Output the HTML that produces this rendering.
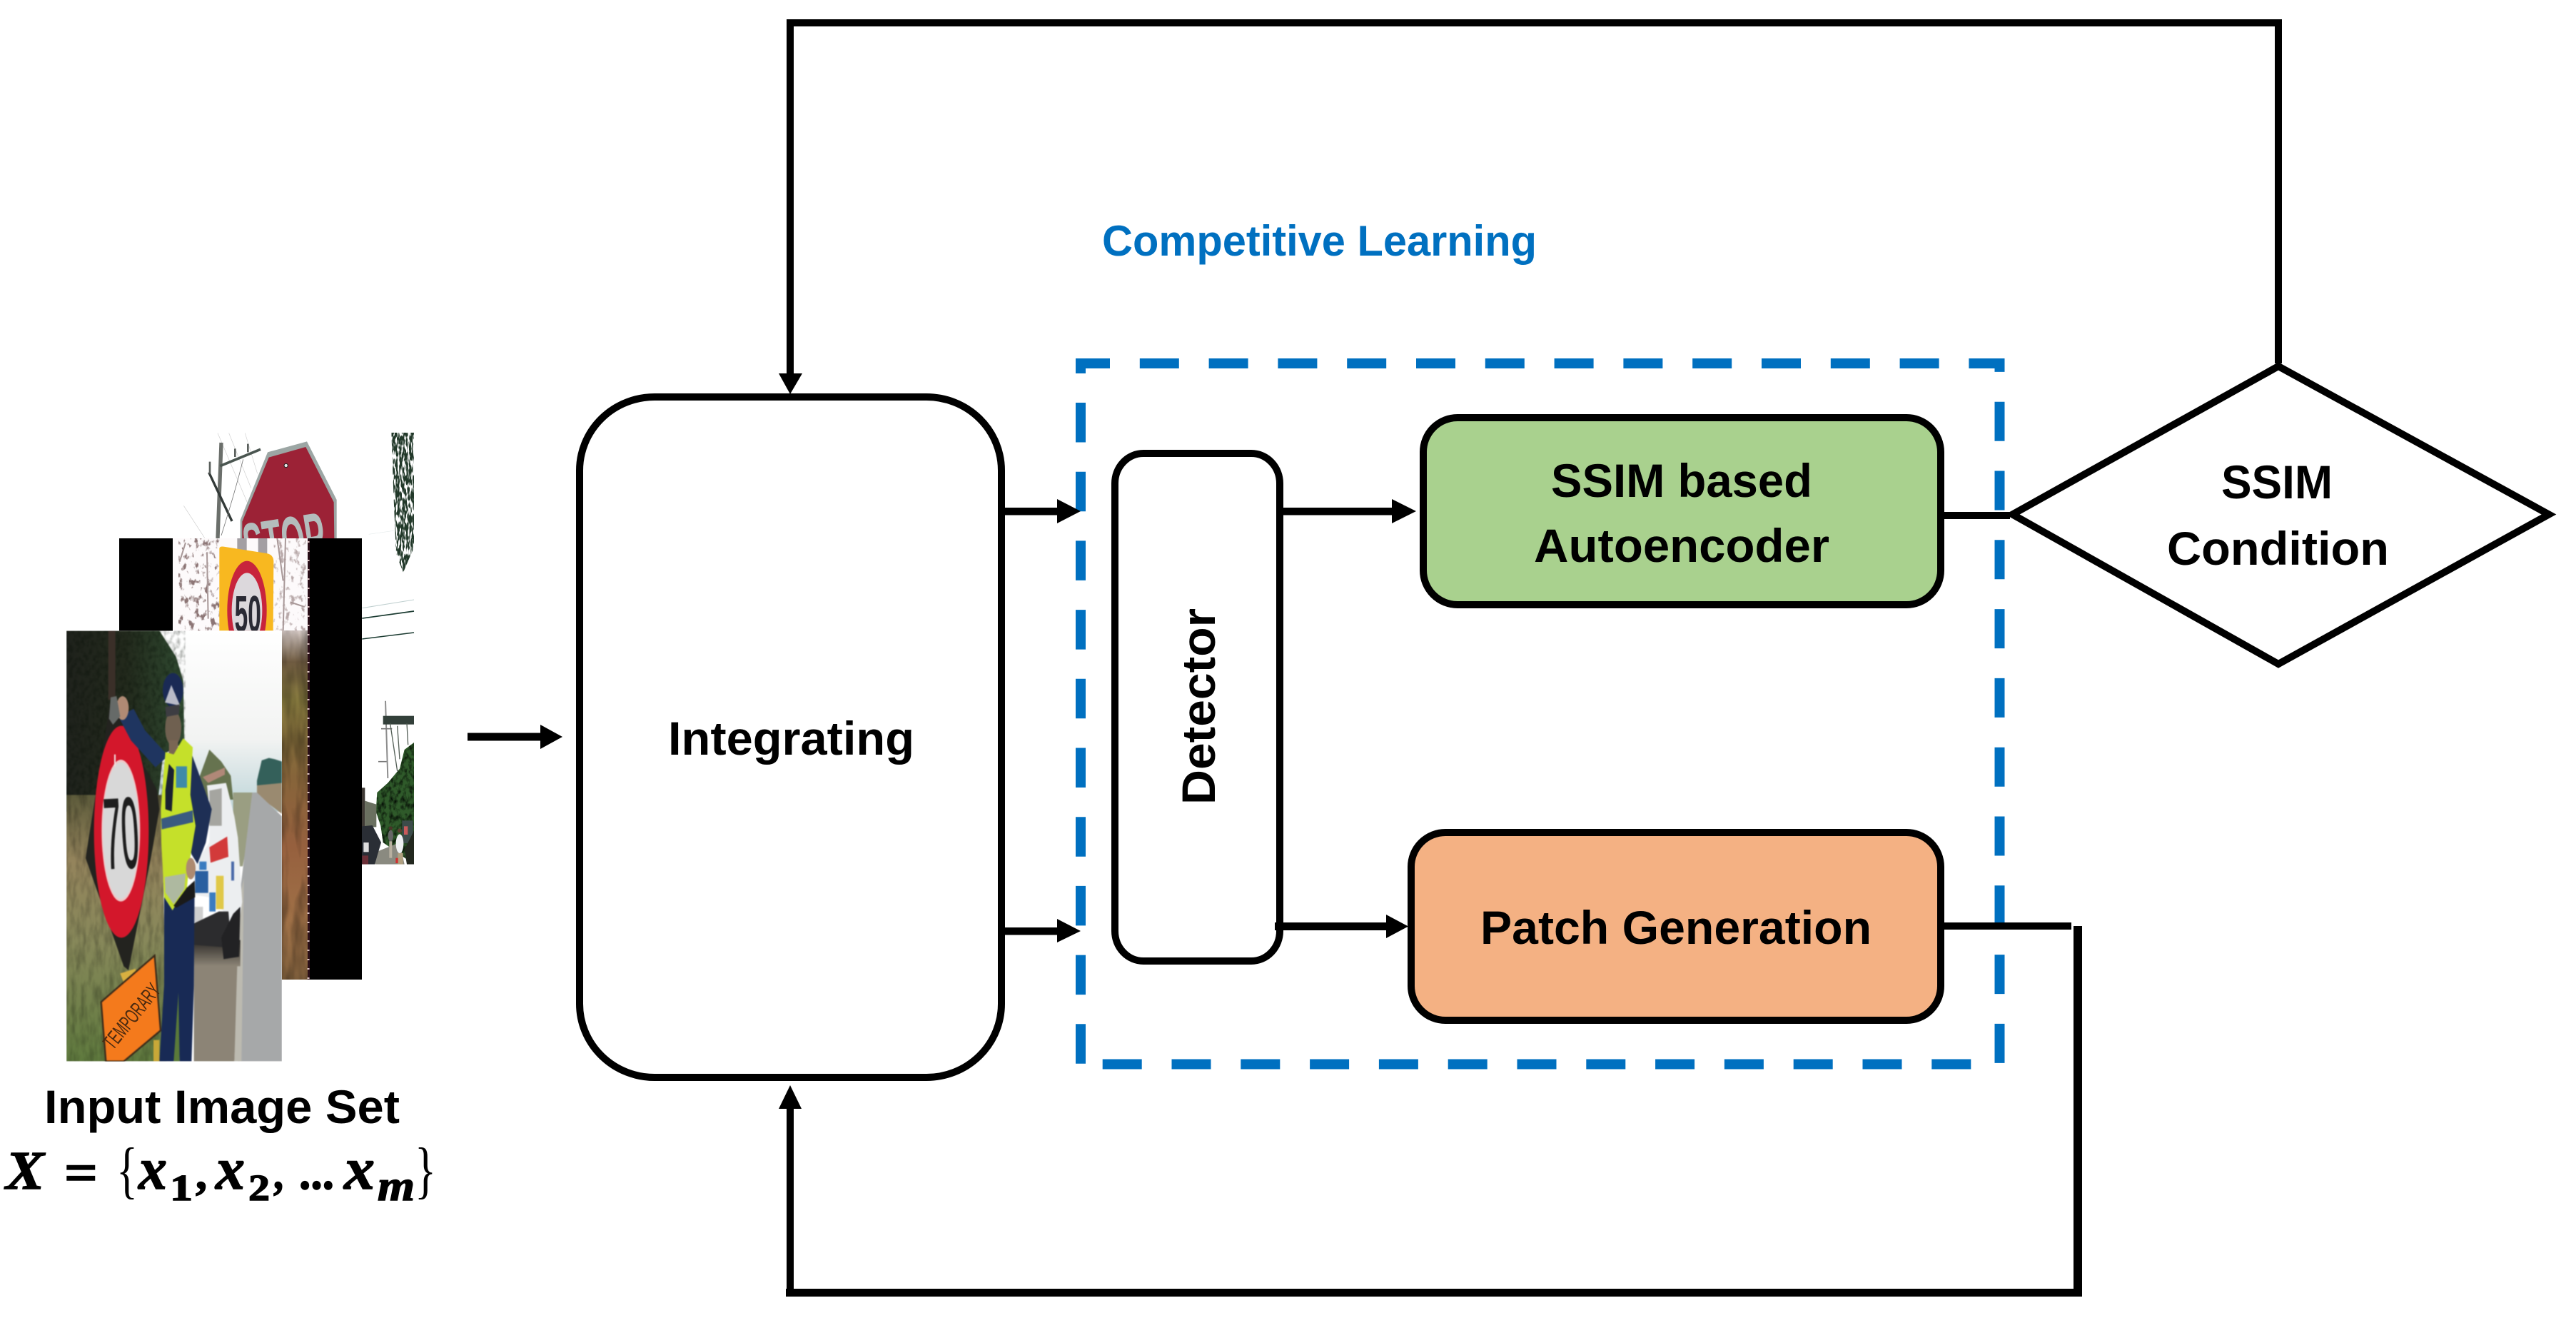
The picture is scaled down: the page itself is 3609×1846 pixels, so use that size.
<!DOCTYPE html>
<html><head><meta charset="utf-8"><style>
html,body{margin:0;padding:0;background:#fff}
svg{display:block}
.t{font-family:"Liberation Sans",sans-serif;font-weight:bold;fill:#000}
.m{font-family:"Liberation Serif",serif;font-weight:bold;font-style:italic;fill:#000;stroke:#000;stroke-width:1.5px}
.n{font-family:"Liberation Serif",serif;font-weight:bold;fill:#000;stroke:#000;stroke-width:1.5px}
.b{font-family:"Liberation Serif",serif;fill:#000}
filter{color-interpolation-filters:sRGB}
</style></head><body>
<svg xmlns="http://www.w3.org/2000/svg" width="3609" height="1846" viewBox="0 0 3609 1846">
<defs>
<clipPath id="c3"><rect x="39" y="10" width="906" height="1810"/></clipPath>
<clipPath id="c6"><rect x="0" y="18" width="990" height="444"/></clipPath>
<clipPath id="c62"><rect x="0" y="462" width="536" height="388"/></clipPath>
<clipPath id="c7"><rect x="350" y="95" width="220" height="687"/></clipPath>
<clipPath id="treeTop"><polygon points="895,18 990,18 990,500 945,605 915,530 905,300"/></clipPath>
<clipPath id="treeLow"><polygon points="570,270 530,300 510,380 460,440 415,480 410,560 430,620 440,690 570,782"/></clipPath>
<linearGradient id="sky" x1="0" y1="0" x2="0" y2="1"><stop offset="0" stop-color="#fff"/><stop offset=".6" stop-color="#f2f3f2"/><stop offset="1" stop-color="#bcd4d8"/></linearGradient>
<linearGradient id="hedge" x1="0" y1="0" x2="1" y2="0"><stop offset="0" stop-color="#1f221c"/><stop offset=".5" stop-color="#22291c"/><stop offset="1" stop-color="#2f4a30"/></linearGradient>
<linearGradient id="grass" x1="0" y1="0" x2="0" y2="1"><stop offset="0" stop-color="#5c5a3a"/><stop offset=".25" stop-color="#94845c"/><stop offset=".55" stop-color="#87885a"/><stop offset="1" stop-color="#5f7a3e"/></linearGradient>
<linearGradient id="strip" x1="0" y1="0" x2="0" y2="1"><stop offset="0" stop-color="#d8ccc8"/><stop offset=".09" stop-color="#6e5a40"/><stop offset=".2" stop-color="#8a7d40"/><stop offset=".42" stop-color="#86643a"/><stop offset=".62" stop-color="#96603e"/><stop offset=".85" stop-color="#a07248"/><stop offset="1" stop-color="#7b5c3a"/></linearGradient>
<linearGradient id="shad" x1="0" y1="0" x2="0" y2="1"><stop offset="0" stop-color="#2a2825"/><stop offset="1" stop-color="#8c8476"/></linearGradient>
<filter id="n1" x="0" y="0" width="1" height="1"><feTurbulence type="fractalNoise" baseFrequency=".05 .012" numOctaves="3" seed="4"/><feColorMatrix values="0 0 0 0 0 0 0 0 0 0 0 0 0 0 0 1.8 0 0 0 -.7"/><feComposite in2="SourceAlpha" operator="in"/></filter>
<filter id="n2" x="0" y="0" width="1" height="1"><feTurbulence type="fractalNoise" baseFrequency=".06 .04" numOctaves="3" seed="9"/><feColorMatrix values="0 0 0 0 .02 0 0 0 0 .05 0 0 0 0 .02 2.2 0 0 0 -.9"/><feComposite in2="SourceAlpha" operator="in"/></filter>
<filter id="tree" x="0" y="0" width="1" height="1"><feTurbulence type="fractalNoise" baseFrequency=".14 .03" numOctaves="2" seed="3"/><feColorMatrix values="0 0 0 0 .13 0 0 0 0 .22 0 0 0 0 .16 9 0 0 0 -3.7"/><feComposite in2="SourceAlpha" operator="in"/></filter>
<filter id="blot" x="0" y="0" width="1" height="1"><feTurbulence type="fractalNoise" baseFrequency=".045 .03" numOctaves="3" seed="7"/><feColorMatrix values="0 0 0 0 .55 0 0 0 0 .46 0 0 0 0 .46 6 0 0 0 -3.3"/><feComposite in2="SourceAlpha" operator="in"/></filter>
<filter id="blur"><feGaussianBlur stdDeviation="2.2"/></filter>
</defs>
<rect width="3609" height="1846" fill="#fff"/>

<!-- image 1: stop sign -->
<g transform="translate(250 600) scale(.33333)">
<g clip-path="url(#c6)">
<g stroke-linecap="butt" fill="none">
<path d="M165 20L340 430M212 20L305 250M280 20L332 190M22 325L110 460" stroke="#cfcfcf" stroke-width="2"/>
<path d="M180 60L165 462" stroke="#6b6f6b" stroke-width="16"/>
<path d="M175 158L345 88" stroke="#4a5550" stroke-width="11"/>
<path d="M128 185L225 390" stroke="#333a38" stroke-width="10"/>
<path d="M132 140V190M238 85V120M292 65V100" stroke="#5a5f5c" stroke-width="8"/>
<path d="M272 130Q240 260 180 450" stroke="#777" stroke-width="2.5"/>
</g>
<polygon points="375,100 540,55 665,300 665,462 260,462 260,385" fill="#9ca6a4"/>
<polygon points="380,122 535,78 653,310 655,462 268,462 268,392" fill="#9c2236"/>
<circle cx="452" cy="156" r="8" fill="#e8e8e8" stroke="#222" stroke-width="3"/>
<text transform="translate(290 600) rotate(-9)" class="t" style="fill:#b4bcbc" font-size="285" textLength="345" lengthAdjust="spacingAndGlyphs">STOP</text>
</g>
<g clip-path="url(#treeTop)"><rect x="895" y="18" width="95" height="590" fill="#000" filter="url(#tree)"/></g>
<path d="M905 430 L800 445" stroke="#e6ecec" stroke-width="2"/>
<path d="M772 755L990 720" stroke="#c0d0d0" stroke-width="3"/>
<path d="M772 798L990 768" stroke="#1a3a30" stroke-width="5"/>
<path d="M772 885L990 858" stroke="#1a3a30" stroke-width="4.5"/>
</g>
<g transform="translate(390 950) scale(.33333)">
<g clip-path="url(#c7)">
<path d="M450 95L460 420" stroke="#8d8d8d" stroke-width="6"/>
<path d="M432 212H478M420 350H455" stroke="#777" stroke-width="5"/>
<rect x="440" y="158" width="130" height="36" fill="#33403a"/>
<path d="M470 190L500 390M500 200L510 340M540 190L545 280" stroke="#556058" stroke-width="4"/>
<polygon points="570,270 530,300 510,380 460,440 415,480 410,560 430,620 440,690 570,782" fill="#2f5a2a"/>
<g clip-path="url(#treeLow)"><rect x="410" y="270" width="160" height="512" fill="#000" filter="url(#n2)"/></g>
<rect x="350" y="460" width="14" height="165" fill="#3f3a35"/>
<polygon points="364,515 412,530 412,625 364,625" fill="#6a7060"/>
<polygon points="410,730 510,690 530,782 406,782" fill="#8a8a80"/>
<rect x="520" y="598" width="46" height="95" fill="#3c4c4a"/>
<rect x="528" y="622" width="16" height="35" fill="#c85a5a"/>
<polygon points="350,622 395,618 432,690 405,782 350,782" fill="#2a2e35"/>
<rect x="358" y="690" width="22" height="40" fill="#ddd"/>
<rect x="352" y="745" width="26" height="37" fill="#6c3038"/>
<ellipse cx="510" cy="695" rx="16" ry="40" fill="#eef0f2"/><circle cx="510" cy="640" r="9" fill="#5a4030"/>
<rect x="502" y="735" width="22" height="47" fill="#b0a080"/>
<ellipse cx="472" cy="662" rx="11" ry="24" fill="#666"/><rect x="466" y="685" width="12" height="70" fill="#b8b0a0"/><circle cx="472" cy="630" r="8" fill="#4a3428"/>
<rect x="493" y="755" width="10" height="22" fill="#d03030"/>
<polygon points="570,640 530,720 540,782 570,782" fill="#23281f"/>
</g>
</g>

<!-- image 2: 50 sign -->
<rect x="167" y="754" width="75" height="130" fill="#000"/>
<rect x="433" y="754" width="74" height="618" fill="#000"/>
<rect x="242" y="754" width="190" height="130" fill="#fdfafb"/>
<g transform="translate(250 600) scale(.33333)">
<g clip-path="url(#c62)">
<rect x="0" y="462" width="172" height="390" fill="#000" filter="url(#blot)"/>
<rect x="400" y="462" width="136" height="390" fill="#000" filter="url(#blot)" opacity=".6"/>
<path d="M450 462L440 850M415 462L440 640M470 730L530 750M120 520L125 800M30 480L5 560" stroke="#a89898" stroke-width="6" fill="none"/>
<rect x="247" y="462" width="40" height="65" fill="#a39fa3"/>
<rect x="335" y="462" width="38" height="65" fill="#a39fa3"/>
<path d="M172 505Q172 495 190 497L370 525Q400 530 400 560L398 850H172Z" fill="#f8b820"/>
<ellipse cx="288" cy="765" rx="83" ry="208" fill="#c8243c"/>
<ellipse cx="288" cy="765" rx="64" ry="158" fill="#dcd8dc"/>
<text transform="translate(236 855) scale(.46 1)" class="t" style="fill:#2a2a35" font-size="218">50</text>
</g>
</g>
<rect x="395" y="883" width="36" height="489" fill="url(#strip)"/>
<rect x="395" y="883" width="36" height="489" fill="#000" filter="url(#n1)" opacity=".55"/>
<rect x="431" y="754" width="3" height="618" fill="#2a0f18"/>
<line x1="432" y1="758" x2="432" y2="1372" stroke="#d9c0c0" stroke-width="3" stroke-dasharray="2 11"/>

<!-- image 3: officer -->
<g transform="translate(80 880) scale(.33333)">
<g clip-path="url(#c3)">
<rect x="39" y="10" width="906" height="760" fill="url(#sky)"/>
<g filter="url(#blur)">
<polygon points="600,620 640,510 690,560 730,620 740,720 600,720" fill="#66734f"/>
<polygon points="840,640 860,555 890,545 915,550 945,560 945,680 840,680" fill="#34605a"/>
<polygon points="840,660 945,650 945,780 840,700" fill="#9a8a70"/>
<polygon points="740,690 840,690 780,1000 740,1000" fill="#9a9e82"/>
<polygon points="820,690 840,690 945,790 945,1820 760,1820 770,1100" fill="#a6a8a9"/>
<polygon points="575,1330 770,1330 745,1820 575,1820" fill="#8c8476"/>
<polygon points="765,1150 785,1050 775,1820 745,1820" fill="#bcbab0"/>
<rect x="575" y="1310" width="195" height="110" fill="url(#shad)"/>
<polygon points="39,10 430,10 500,120 530,220 535,480 445,530 420,760 39,800" fill="url(#hedge)"/>
<rect x="39" y="10" width="500" height="790" fill="#000" filter="url(#n2)" opacity=".4"/>
<polygon points="39,700 440,700 460,1820 39,1820" fill="url(#grass)"/>
<rect x="39" y="700" width="420" height="1120" fill="#000" filter="url(#n1)" opacity=".3"/>
<rect x="215" y="10" width="30" height="290" fill="#3a2f28"/>
<rect x="490" y="1400" width="25" height="420" fill="#5a7a3a"/>
<!-- car -->
<polygon points="630,660 710,650 745,790 760,880 778,1150 770,1200 740,1315 700,1190 640,1130 575,1120 575,1000 640,900 640,760" fill="#eceef0"/>
<polygon points="612,625 705,585 705,615 635,650" fill="#b08878"/>
<polygon points="640,682 692,672 692,830 640,830" fill="#a5a5a0"/>
<polygon points="640,920 715,875 720,960 645,985" fill="#d23a3a"/>
<rect x="668" y="1040" width="32" height="140" fill="#e0c848"/>
<rect x="732" y="980" width="12" height="80" fill="#4a6aa8"/>
<rect x="640" y="1110" width="26" height="80" fill="#3a7cc0"/>
<rect x="580" y="1020" width="55" height="92" fill="#2a5fa0"/>
<rect x="598" y="980" width="30" height="35" fill="#3a7cc0"/>
<rect x="577" y="1170" width="36" height="66" fill="#cfcfcf"/>
<polygon points="575,1240 680,1190 720,1190 730,1310 700,1340 575,1330" fill="#2c2c2e"/>
<polygon points="740,1200 770,1170 765,1380 700,1390 690,1300" fill="#222224"/>
<!-- sign -->
<polygon points="225,300 270,400 420,680 430,760 395,960 300,1437 280,1420 120,966 130,900 200,460" fill="#23231f"/>
<ellipse cx="270" cy="855" rx="115" ry="445" fill="#d3172b"/>
<ellipse cx="268" cy="850" rx="81" ry="298" fill="#f0c8c8"/>
<ellipse cx="268" cy="850" rx="76" ry="288" fill="#d8d8d8"/>
<rect x="240" y="530" width="6" height="50" fill="#f0e0e0"/>
<text transform="translate(205 1010) rotate(-3) scale(.31 1)" font-family="Liberation Sans,sans-serif" font-size="420" fill="#1d1d1d" stroke="#1d1d1d" stroke-width="6">70</text>
<!-- officer -->
<path d="M290 355L340 450L440 560" stroke="#1f3560" stroke-width="72" fill="none"/>
<ellipse cx="275" cy="335" rx="26" ry="50" fill="#b08a74"/>
<polygon points="225,290 250,285 265,370 235,405 218,380" fill="#666a68"/>
<polygon points="540,470 570,540 650,760 625,900 590,990 565,950 500,700" fill="#1e2f55"/>
<ellipse cx="488" cy="420" rx="34" ry="75" fill="#6f6050"/>
<rect x="470" y="470" width="38" height="70" fill="#7a6654"/>
<ellipse cx="487" cy="260" rx="43" ry="72" fill="#1a2a55"/>
<polygon points="480,238 453,312 517,325" fill="#b8bac8"/>
<polygon points="455,330 515,320 512,362 458,372" fill="#3d3d42"/>
<polygon points="530,462 570,500 560,700 582,830 555,990 545,1100 485,1185 450,1130 438,900 436,760 455,520 490,530" fill="#c5e02a"/>
<polygon points="470,570 492,595 482,770 455,760 455,680" fill="#1a2030"/>
<rect x="500" y="580" width="46" height="90" fill="#3f8aa8"/>
<polygon points="438,800 570,765 572,815 440,845" fill="#3a5a80"/>
<polygon points="452,1045 540,1030 535,1095 490,1160 455,1110" fill="#aeb9a0"/>
<polygon points="450,1130 485,1185 545,1090 578,1065 575,1500 565,1820 515,1820 510,1530 490,1820 430,1820 450,1500" fill="#182a55"/>
<polygon points="452,1130 490,1165 545,1090 578,1060 580,1130 500,1175" fill="#1a1a1a"/>
<ellipse cx="562" cy="1010" rx="20" ry="45" fill="#ad8a70"/>
<!-- orange -->
<polygon points="265,1450 330,1430 330,1480 280,1490" fill="#d8b040"/>
<polygon points="185,1570 410,1375 435,1690 280,1820 205,1820" fill="#f47a1c" stroke="#3a2a1a" stroke-width="7"/>
<rect x="405" y="1730" width="25" height="90" fill="#c8a838"/>
</g>
<text transform="translate(235 1775) rotate(-51)" font-family="Liberation Sans,sans-serif" font-size="88" fill="#4a2a10" textLength="325" lengthAdjust="spacingAndGlyphs">TEMPORARY</text>
</g>
</g>

<!-- left arrow -->
<rect x="655" y="1026.5" width="104" height="11" fill="#000"/>
<polygon points="757,1015 788,1032 757,1049" fill="#000"/>

<!-- Feedback top -->
<rect x="1102" y="27" width="2095" height="10" fill="#000"/>
<rect x="1102" y="32" width="10" height="493" fill="#000"/>
<polygon points="1091,523 1107,552 1124,523" fill="#000"/>
<rect x="3187" y="27" width="10" height="482" fill="#000"/>
<!-- Feedback bottom -->
<rect x="1101" y="1805" width="1816" height="11" fill="#000"/>
<rect x="1102" y="1550" width="10" height="262" fill="#000"/>
<polygon points="1091,1553 1107,1520 1123,1553" fill="#000"/>
<rect x="2905" y="1297" width="12" height="514" fill="#000"/>

<!-- dashed box -->
<path d="M1514 523V509H2801.5V1490.5H1540" fill="none" stroke="#0070C0" stroke-width="14" stroke-dasharray="55 41.8"/>
<path d="M1514 564V1490" fill="none" stroke="#0070C0" stroke-width="14" stroke-dasharray="55.5 41.2"/>

<!-- Integrating -->
<rect x="812" y="556" width="591" height="953" rx="105" ry="103" fill="#fff" stroke="#000" stroke-width="10"/>
<!-- Detector -->
<rect x="1562" y="635" width="231" height="711" rx="40" ry="42" fill="#fff" stroke="#000" stroke-width="10"/>
<!-- Green -->
<rect x="1994" y="585" width="725" height="262" rx="48" ry="48" fill="#A9D18E" stroke="#000" stroke-width="10"/>
<!-- Orange -->
<rect x="1977" y="1166" width="742" height="263" rx="48" ry="48" fill="#F4B183" stroke="#000" stroke-width="10"/>
<!-- Diamond -->
<polygon points="3192,513 3571,720.5 3192,930 2819.5,720.5" fill="#fff" stroke="#000" stroke-width="10"/>

<!-- arrows -->
<rect x="1408" y="711" width="75" height="10.5" fill="#000"/>
<polygon points="1481,699 1514,716 1481,733" fill="#000"/>
<rect x="1408" y="1299" width="75" height="10.5" fill="#000"/>
<polygon points="1481,1287 1514,1304 1481,1320" fill="#000"/>
<rect x="1798" y="711" width="154" height="10.5" fill="#000"/>
<polygon points="1950,699 1984,716 1950,733" fill="#000"/>
<rect x="1786" y="1292" width="158" height="11" fill="#000"/>
<polygon points="1942,1281 1973,1297.5 1942,1314" fill="#000"/>
<rect x="2722" y="717" width="94" height="10" fill="#000"/>
<rect x="2722" y="1292" width="180" height="10" fill="#000"/>

<!-- labels -->
<text class="t" x="1544" y="358" font-size="60" style="fill:#0070C0" textLength="609" lengthAdjust="spacingAndGlyphs">Competitive Learning</text>
<text class="t" x="936" y="1057" font-size="66" textLength="345" lengthAdjust="spacingAndGlyphs">Integrating</text>
<text class="t" transform="translate(1702 1127) rotate(-90)" font-size="66" textLength="275" lengthAdjust="spacingAndGlyphs">Detector</text>
<text class="t" x="2173" y="696" font-size="66" textLength="366" lengthAdjust="spacingAndGlyphs">SSIM based</text>
<text class="t" x="2149" y="787" font-size="66" textLength="414" lengthAdjust="spacingAndGlyphs">Autoencoder</text>
<text class="t" x="2074" y="1322" font-size="66" textLength="548" lengthAdjust="spacingAndGlyphs">Patch Generation</text>
<text class="t" x="3112" y="698" font-size="66" textLength="156" lengthAdjust="spacingAndGlyphs">SSIM</text>
<text class="t" x="3036" y="791" font-size="66" textLength="311" lengthAdjust="spacingAndGlyphs">Condition</text>
<text class="t" x="62" y="1573" font-size="66" textLength="498" lengthAdjust="spacingAndGlyphs">Input Image Set</text>

<!-- formula -->
<text class="m" x="8" y="1665" font-size="76" textLength="54" lengthAdjust="spacingAndGlyphs">X</text>
<text class="n" x="90" y="1668" font-size="76" textLength="47" lengthAdjust="spacingAndGlyphs">=</text>
<text class="b" x="163" y="1668" font-size="88" textLength="30" lengthAdjust="spacingAndGlyphs">{</text>
<text class="m" x="194" y="1665" font-size="84" textLength="40" lengthAdjust="spacingAndGlyphs">x</text>
<text class="n" x="238" y="1681" font-size="52" textLength="32" lengthAdjust="spacingAndGlyphs">1</text>
<text class="n" x="274" y="1665" font-size="64" textLength="16" lengthAdjust="spacingAndGlyphs">,</text>
<text class="m" x="302" y="1665" font-size="84" textLength="41" lengthAdjust="spacingAndGlyphs">x</text>
<text class="n" x="348" y="1681" font-size="52" textLength="30" lengthAdjust="spacingAndGlyphs">2</text>
<text class="n" x="383" y="1665" font-size="64" textLength="14" lengthAdjust="spacingAndGlyphs">,</text>
<text class="n" x="419" y="1665" font-size="70" textLength="49" lengthAdjust="spacingAndGlyphs">...</text>
<text class="m" x="482" y="1665" font-size="84" textLength="43" lengthAdjust="spacingAndGlyphs">x</text>
<text class="m" x="529" y="1681" font-size="60" textLength="52" lengthAdjust="spacingAndGlyphs">m</text>
<text class="b" x="581" y="1668" font-size="88" textLength="30" lengthAdjust="spacingAndGlyphs">}</text>
</svg>
</body></html>
